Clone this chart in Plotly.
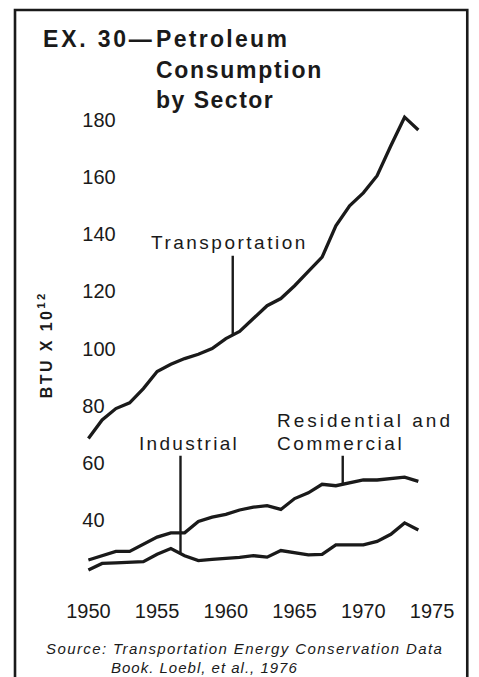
import plotly.graph_objects as go

W, H = 479, 677

years = list(range(1950, 1975))
transportation = [68.5, 75.0, 79.0, 81.0, 86.0, 92.0, 94.5, 96.5, 98.0, 100.0,
                  103.5, 106.0, 110.5, 115.0, 117.5, 122.0, 127.0, 132.0, 143.0, 150.0,
                  154.5, 160.5, 171.0, 181.0, 176.5]
residential = [26.0, 27.5, 29.0, 29.0, 31.5, 34.0, 35.5, 35.5, 39.5, 41.0,
               42.0, 43.5, 44.5, 45.0, 43.7, 47.5, 49.5, 52.5, 52.0, 53.0,
               54.0, 54.0, 54.5, 55.0, 53.5]
industrial = [22.5, 24.8, 25.0, 25.2, 25.4, 28.0, 30.0, 27.5, 25.8, 26.2,
              26.5, 26.9, 27.5, 27.0, 29.3, 28.5, 27.8, 28.0, 31.3, 31.3,
              31.3, 32.5, 35.0, 39.0, 36.5]

x_ticks = [1950, 1955, 1960, 1965, 1970, 1975]
x_ticktext = ["1950", "1955", "1960", "1965", "1970", "1975"]
y_ticks = [40, 60, 80, 100, 120, 140, 160, 180]
y_ticktext = ["40", "60", "80", "100", "120", "140", "160", "180"]

# callout leader lines: (x, y_top, y_bottom)
callout_transport = (1960.5, 132.5, 105.0)
callout_industrial = (1956.7, 62.5, 28.5)
callout_residential = (1968.5, 62.5, 52.3)

INK = "#1a1a1a"
FONT = "Liberation Sans, Arial, sans-serif"

# the photographed page shows x as 15 + 0.968 * x_page; compensate
OX, SX = 15.0, 0.968


def px(x):
    return ((x - OX) / SX) / W


def py(y):
    return 1 - y / H


# pixel mapping of the axes (from the picture)
X_PER_YEAR = 13.68
X_1950 = 90.0
Y_40 = 520.0
Y_PER_UNIT = 2.857
dom_x0, dom_x1 = 81.0, 462.0
dom_y_top, dom_y_bot = 100.0, 597.0
x_range = [1950 + (dom_x0 - X_1950) / X_PER_YEAR, 1950 + (dom_x1 - X_1950) / X_PER_YEAR]
y_range = [40 + (Y_40 - dom_y_bot) / Y_PER_UNIT, 40 + (Y_40 - dom_y_top) / Y_PER_UNIT]


def spaced(t, s):
    return f'<span style="letter-spacing:{s}px">{t}</span>'


fig = go.Figure()
for name, vals in [("Transportation", transportation),
                   ("Residential and Commercial", residential),
                   ("Industrial", industrial)]:
    fig.add_trace(go.Scatter(x=years, y=vals, mode="lines", name=name,
                             line=dict(color=INK, width=3.3),
                             hoverinfo="x+y+name"))

shapes = []
for cx, ytop, ybot in [callout_transport, callout_industrial, callout_residential]:
    shapes.append(dict(type="line", xref="x", yref="y", x0=cx, x1=cx, y0=ytop, y1=ybot,
                       line=dict(color=INK, width=2.4)))
# border frame (open at bottom)
shapes.append(dict(type="path", xref="paper", yref="paper",
                   path=f"M {px(17)} -0.05 L {px(17)} {py(10)} L {px(467)} {py(10)} L {px(467)} -0.05",
                   line=dict(color=INK, width=2.6)))

ann = []


def label(text, x, y, size, xanchor="left", bold=False, italic=False, ls=0.0, angle=0):
    t = text
    if ls:
        t = spaced(t, ls)
    if bold:
        t = f"<b>{t}</b>"
    if italic:
        t = f"<i>{t}</i>"
    ann.append(dict(text=t, x=px(x), y=py(y), xref="paper", yref="paper",
                    xanchor=xanchor, yanchor="middle", showarrow=False,
                    textangle=angle,
                    font=dict(family=FONT, size=size, color=INK)))


# title
label("EX. 30\u2014", 43, 39, 23, bold=True, ls=2.8)
label("Petroleum", 155, 39, 23, bold=True, ls=2.3)
label("Consumption", 155, 70, 23, bold=True, ls=1.7)
label("by Sector", 155, 100, 23, bold=True, ls=1.5)

# series labels
label("Transportation", 230, 242, 19, xanchor="center", ls=2.5)
label("Industrial", 190, 443, 19, xanchor="center", ls=2.3)
label("Residential and", 276, 420, 19, ls=3.0)
label("Commercial", 276, 443, 19, ls=2.6)

# y axis title
ann.append(dict(text="<b>" + spaced("BTU X 10<sup>12</sup>", 2.4) + "</b>",
                x=px(47), y=py(345), xref="paper", yref="paper",
                xanchor="center", yanchor="middle", showarrow=False, textangle=-90,
                font=dict(family=FONT, size=16, color=INK)))

# source
label("Source: Transportation Energy Conservation Data", 46, 648, 15, italic=True, ls=1.4)
label("Book. Loebl, et al., 1976", 111, 667, 15, italic=True, ls=1.0)

fig.update_layout(
    width=W, height=H,
    autosize=False,
    margin=dict(l=0, r=0, t=0, b=0),
    paper_bgcolor="white", plot_bgcolor="white",
    showlegend=False,
    shapes=shapes,
    annotations=ann,
    xaxis=dict(domain=[px(dom_x0), px(dom_x1)], range=x_range,
               tickvals=x_ticks, ticktext=x_ticktext, ticklabeloverflow="allow",
               showgrid=False, zeroline=False, showline=False, ticks="",
               tickfont=dict(family=FONT, size=20, color=INK)),
    yaxis=dict(domain=[py(dom_y_bot), py(dom_y_top)], range=y_range,
               tickvals=y_ticks, ticktext=y_ticktext,
               ticklabelposition="inside", ticklabeloverflow="allow",
               showgrid=False, zeroline=False, showline=False, ticks="",
               tickfont=dict(family=FONT, size=20, color=INK)),
)

fig.write_html("out.html", config={"responsive": False, "displayModeBar": False},
               post_script="document.body.style.margin='0';document.body.style.overflow='hidden';")
